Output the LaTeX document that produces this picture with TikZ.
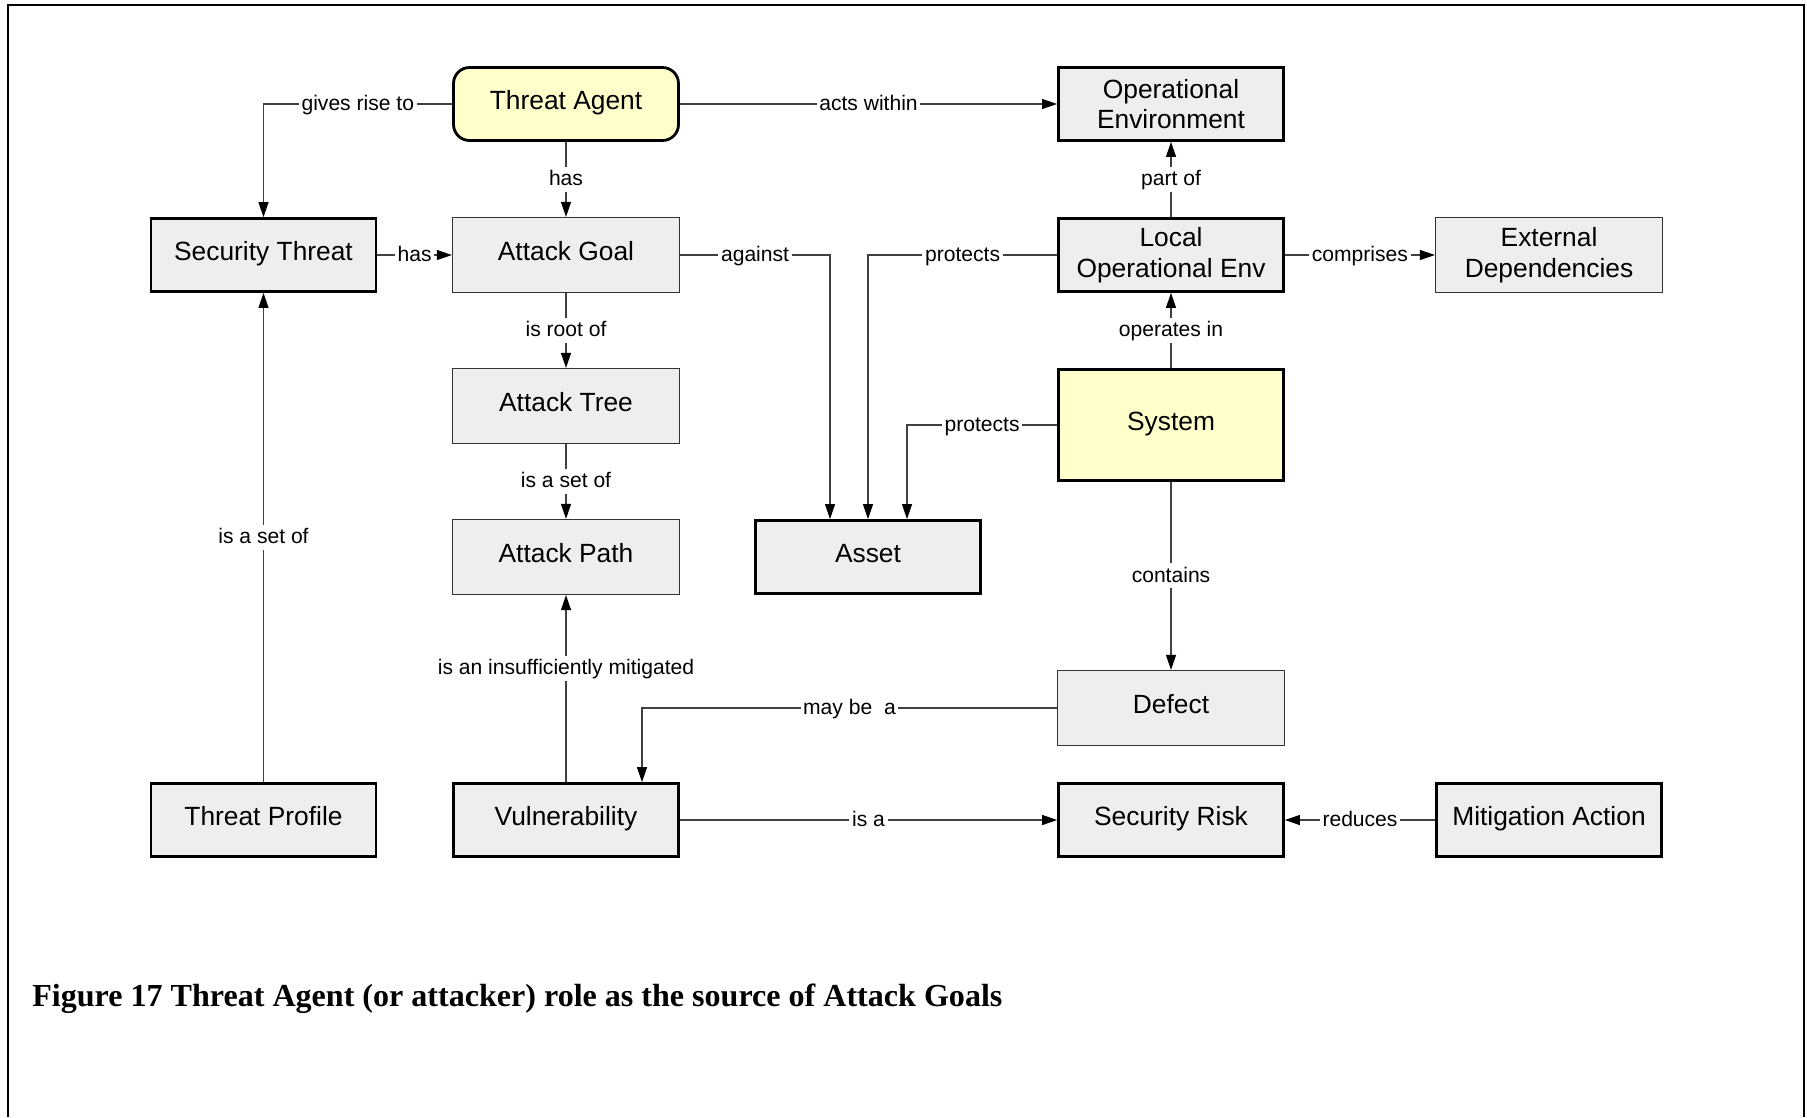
\documentclass[tikz,border=0pt]{standalone}
\usepackage{fontspec}
\setmainfont{Liberation Sans}
\newfontfamily\capfont{Liberation Serif}
\usetikzlibrary{arrows.meta}

\definecolor{boxgray}{HTML}{EEEEEE}
\definecolor{boxyellow}{HTML}{FFFFCC}

\begin{document}
\begin{tikzpicture}[x=0.02cm,y=-0.02cm,
  concept/.style={fill=boxgray, align=center, inner sep=2pt,
    font=\fontsize{15}{17.5}\selectfont},
  oneline/.style={text height=0.86em, text depth=0.2em},
  strong/.style={concept, draw=black, line width=1.6pt,
    minimum width=4.5cm, minimum height=1.46cm},
  plain/.style={concept, draw=black!80, line width=0.7pt,
    minimum width=4.54cm, minimum height=1.5cm},
  conn/.style={draw=black!75, line width=0.6pt,
    -{Triangle[length=0.3cm,width=0.2cm,black]}},
  lbl/.style={fill=white, inner sep=1.5pt, text=black,
    text height=0.92em, text depth=0.2em,
    font=\fontsize{12}{14}\selectfont}]

% page area and frame
\useasboundingbox (0,0) rectangle (1807,1117);
\draw[line width=1.3pt] (8,1117) -- (8,5) -- (1804,5) -- (1804,1117);

% concepts
\node[strong, oneline, fill=boxyellow, rounded corners=0.32cm] (ta) at (566,104) {Threat Agent};
\node[strong] (oe) at (1171,104) {Operational\\Environment};
\node[strong, oneline] (st) at (263.5,255) {Security Threat};
\node[plain, oneline]  (ag) at (566,255) {Attack Goal};
\node[strong] (lo) at (1171,255) {Local\\Operational Env};
\node[plain]  (ed) at (1549,255) {External\\Dependencies};
\node[plain, oneline]  (at) at (566,406) {Attack Tree};
\node[strong, oneline, fill=boxyellow, minimum height=2.22cm] (sy) at (1171,425) {System};
\node[plain, oneline]  (ap) at (566,557) {Attack Path};
\node[strong, oneline] (as) at (868,557) {Asset};
\node[plain, oneline]  (de) at (1171,708) {Defect};
\node[strong, oneline] (tp) at (263.5,820) {Threat Profile};
\node[strong, oneline] (vu) at (566,820) {Vulnerability};
\node[strong, oneline] (sr) at (1171,820) {Security Risk};
\node[strong, oneline] (ma) at (1549,820) {Mitigation Action};

% relations
\draw[conn] (ta.west) -| node[lbl, pos=0.25] {gives rise to} (st.north);
\draw[conn] (ta.east) -- node[lbl] {acts within} (oe.west);
\draw[conn] (ta.south) -- node[lbl] {has} (ag.north);
\draw[conn] (st.east) -- node[lbl] {has} (ag.west);
\draw[conn] (ag.east) -| node[lbl, pos=0.25] {against} ([xshift=-0.76cm]as.north);
\draw[conn] (lo.west) -| node[lbl, pos=0.25] {protects} (as.north);
\draw[conn] (sy.west) -| node[lbl, pos=0.25] {protects} ([xshift=0.78cm]as.north);
\draw[conn] (lo.north) -- node[lbl] {part of} (oe.south);
\draw[conn] (lo.east) -- node[lbl] {comprises} (ed.west);
\draw[conn] (sy.north) -- node[lbl] {operates in} (lo.south);
\draw[conn] (ag.south) -- node[lbl] {is root of} (at.north);
\draw[conn] (at.south) -- node[lbl] {is a set of} (ap.north);
\draw[conn] (tp.north) -- node[lbl] {is a set of} (st.south);
\draw[conn] (vu.north) -- node[lbl, pos=0.61] {is an insufficiently mitigated} (ap.south);
\draw[conn] (sy.south) -- node[lbl] {contains} (de.north);
\draw[conn] (de.west) -| node[lbl, pos=0.25] {may be\ \ a} ([xshift=1.52cm]vu.north);
\draw[conn] (vu.east) -- node[lbl] {is a} (sr.west);
\draw[conn] (ma.west) -- node[lbl] {reduces} (sr.east);

% caption
\node[anchor=base west, inner sep=0pt, font=\capfont\bfseries\fontsize{18.25}{21}\selectfont]
  (cap) at (32,1006) {Figure 17 Threat Agent (or attacker) role as the source of Attack Goals};
\end{tikzpicture}
\end{document}
